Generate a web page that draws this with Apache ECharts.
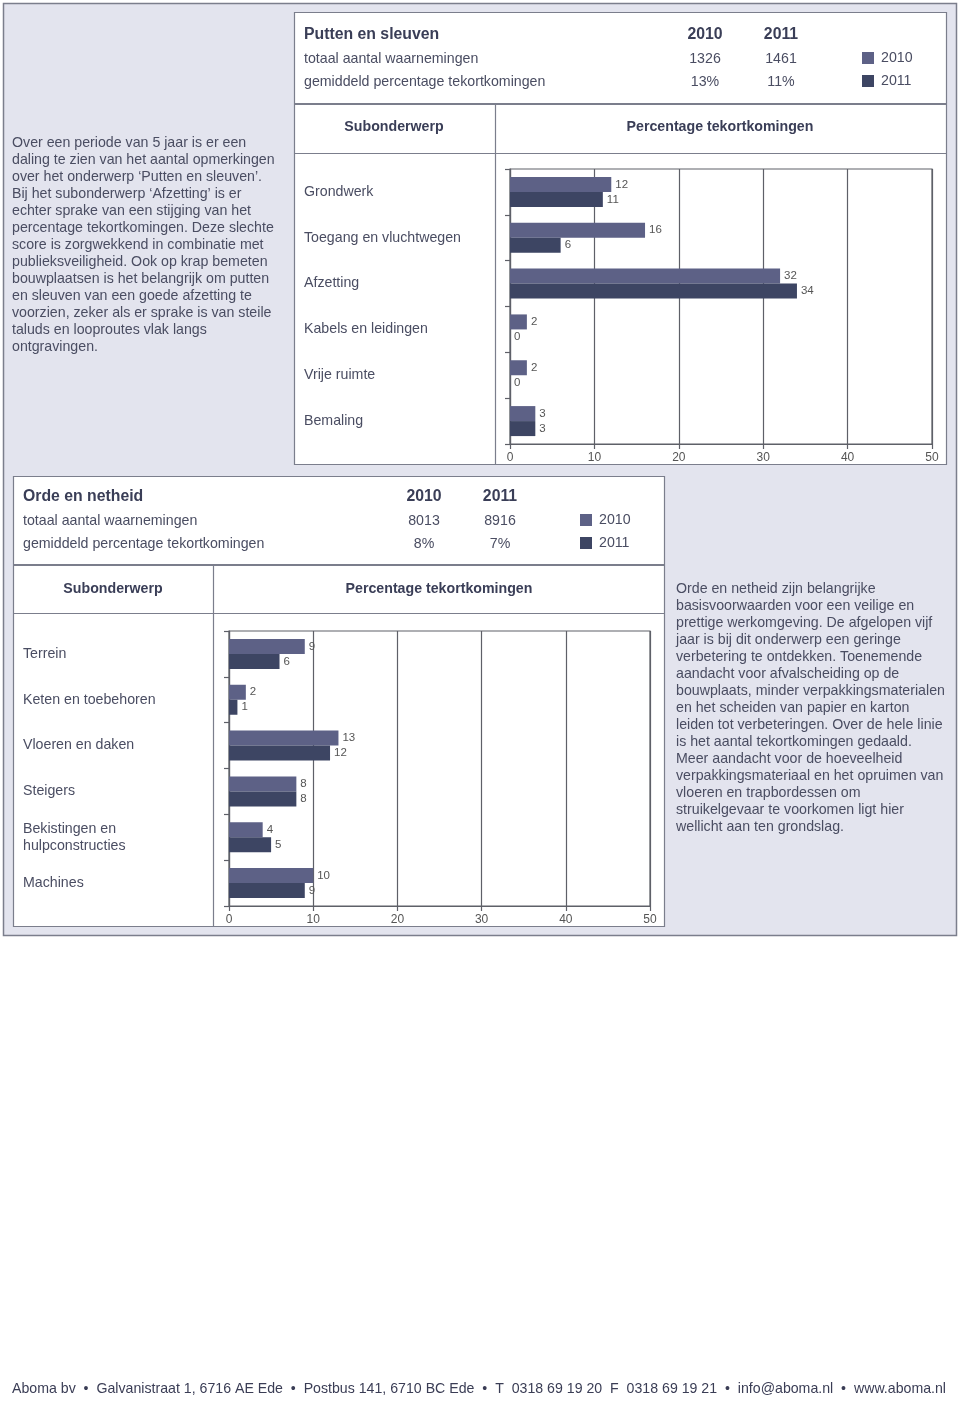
<!DOCTYPE html>
<html><head><meta charset="utf-8">
<script src="https://cdn.jsdelivr.net/npm/echarts@6/dist/echarts.min.js"></script>
<style>html,body{margin:0;padding:0;background:#fff}#c{width:960px;height:1402px}</style>
</head><body><div id="c"></div><script>
// ---------- data ----------
const years = ['2010', '2011'];
const puttenTitle = 'Putten en sleuven';
const puttenCategories = ['Grondwerk', 'Toegang en vluchtwegen', 'Afzetting', 'Kabels en leidingen', 'Vrije ruimte', 'Bemaling'];
const putten2010 = [12, 16, 32, 2, 2, 3];
const putten2011 = [11, 6, 34, 0, 0, 3];
const puttenTotals = ['1326', '1461'];
const puttenAvg = ['13%', '11%'];

const ordeTitle = 'Orde en netheid';
const ordeCategories = ['Terrein', 'Keten en toebehoren', 'Vloeren en daken', 'Steigers', 'Bekistingen en hulpconstructies', 'Machines'];
const orde2010 = [9, 2, 13, 8, 4, 10];
const orde2011 = [6, 1, 12, 8, 5, 9];
const ordeTotals = ['8013', '8916'];
const ordeAvg = ['8%', '7%'];

const xTickMin = 0, xTickMax = 50, xTickStep = 10;

const puttenText = [
  'Over een periode van 5 jaar is er een',
  'daling te zien van het aantal opmerkingen',
  'over het onderwerp \u2018Putten en sleuven\u2019.',
  'Bij het subonderwerp \u2018Afzetting\u2019 is er',
  'echter sprake van een stijging van het',
  'percentage tekortkomingen. Deze slechte',
  'score is zorgwekkend in combinatie met',
  'publieksveiligheid. Ook op krap bemeten',
  'bouwplaatsen is het belangrijk om putten',
  'en sleuven van een goede afzetting te',
  'voorzien, zeker als er sprake is van steile',
  'taluds en looproutes vlak langs',
  'ontgravingen.'
];
const ordeText = [
  'Orde en netheid zijn belangrijke',
  'basisvoorwaarden voor een veilige en',
  'prettige werkomgeving. De afgelopen vijf',
  'jaar is bij dit onderwerp een geringe',
  'verbetering te ontdekken. Toenemende',
  'aandacht voor afvalscheiding op de',
  'bouwplaats, minder verpakkingsmaterialen',
  'en het scheiden van papier en karton',
  'leiden tot verbeteringen. Over de hele linie',
  'is het aantal tekortkomingen gedaald.',
  'Meer aandacht voor de hoeveelheid',
  'verpakkingsmateriaal en het opruimen van',
  'vloeren en trapbordessen om',
  'struikelgevaar te voorkomen ligt hier',
  'wellicht aan ten grondslag.'
];
const footerText = 'Aboma bv  \u2022  Galvanistraat 1, 6716 AE Ede  \u2022  Postbus 141, 6710 BC Ede  \u2022  T  0318 69 19 20  F  0318 69 19 21  \u2022  info@aboma.nl  \u2022  www.aboma.nl';

// ---------- styles ----------
const FONT = '"Liberation Sans", Arial, Helvetica, sans-serif';
const FS = 14.2;
const TXT = '#4a4d62';
const HEAD = '#3a3e57';
const C2010 = '#5d6186';
const C2011 = '#3d4563';
const BORDER = '#7b7e8c';
const GRIDC = '#5e6068';

function T(x, y, text, o) {
  o = o || {};
  return { type: 'text', x: x, y: y, z: 10, silent: true,
    style: { text: text, fill: o.fill || TXT, fontSize: o.size || FS, fontWeight: o.bold ? 'bold' : 'normal',
      fontFamily: FONT, align: o.align || 'left', verticalAlign: o.va || 'middle', lineHeight: o.lh || undefined } };
}
function R(x, y, w, h, fill, stroke, lw, z) {
  return { type: 'rect', z: z == null ? -5 : z, silent: true, shape: { x: x, y: y, width: w, height: h },
    style: { fill: fill, stroke: stroke || null, lineWidth: lw || 1 } };
}
function L(x1, y1, x2, y2, z) {
  return { type: 'line', z: z == null ? -4 : z, silent: true, shape: { x1: x1, y1: y1, x2: x2, y2: y2 },
    style: { stroke: BORDER, lineWidth: 1.2 } };
}

function headerBlock(ox, oy, title, totals, avg) {
  return [
    T(ox + 10, oy + 22, title, { bold: true, size: 15.8, fill: HEAD }),
    T(ox + 411, oy + 22, years[0], { bold: true, size: 15.8, fill: HEAD, align: 'center' }),
    T(ox + 487, oy + 22, years[1], { bold: true, size: 15.8, fill: HEAD, align: 'center' }),
    T(ox + 10, oy + 46, 'totaal aantal waarnemingen'),
    T(ox + 411, oy + 46, totals[0], { align: 'center' }),
    T(ox + 487, oy + 46, totals[1], { align: 'center' }),
    T(ox + 10, oy + 69, 'gemiddeld percentage tekortkomingen'),
    T(ox + 411, oy + 69, avg[0], { align: 'center' }),
    T(ox + 487, oy + 69, avg[1], { align: 'center' })
  ];
}

// footer scale
const cv = document.createElement('canvas').getContext('2d');
cv.font = '15px ' + FONT;
const footW = cv.measureText(footerText).width;
const footScale = 934 / footW;

const graphics = [
  R(3.5, 3.5, 953, 932, '#e3e4ee', BORDER, 1.5, -20),
  R(294.5, 12.5, 652, 91, '#ffffff', BORDER, 1.2),
  R(294.5, 104.5, 652, 360, '#ffffff', BORDER, 1.2),
  L(495.5, 104.5, 495.5, 464.5),
  L(294.5, 153.5, 946.5, 153.5),
  T(394, 127, 'Subonderwerp', { bold: true, fill: HEAD, align: 'center' }),
  T(720, 127, 'Percentage tekortkomingen', { bold: true, fill: HEAD, align: 'center' }),
  R(13.5, 476.5, 651, 88, '#ffffff', BORDER, 1.2),
  R(13.5, 565.5, 651, 361, '#ffffff', BORDER, 1.2),
  L(213.5, 565.5, 213.5, 926.5),
  L(13.5, 613.5, 664.5, 613.5),
  T(113, 589, 'Subonderwerp', { bold: true, fill: HEAD, align: 'center' }),
  T(439, 589, 'Percentage tekortkomingen', { bold: true, fill: HEAD, align: 'center' }),
  T(12, 135, puttenText.join('\n'), { va: 'top', lh: 17 }),
  T(676, 581, ordeText.join('\n'), { va: 'top', lh: 17 }),
  { type: 'text', x: 12, y: 1389, z: 10, scaleX: footScale, silent: true,
    style: { text: footerText, fill: '#3a3d55', fontSize: 15, fontFamily: FONT, align: 'left', verticalAlign: 'middle' } }
].concat(headerBlock(294, 13, puttenTitle, puttenTotals, puttenAvg))
 .concat(headerBlock(13, 475, ordeTitle, ordeTotals, ordeAvg));

function xAxisCfg(gi) {
  return { gridIndex: gi, type: 'value', min: xTickMin, max: xTickMax, interval: xTickStep,
    axisLine: { show: true, lineStyle: { color: GRIDC, width: 1.2 } },
    axisTick: { show: true, length: 5, lineStyle: { color: GRIDC, width: 1.2 } },
    splitLine: { show: true, lineStyle: { color: GRIDC, width: 1.2 } },
    axisLabel: { fontSize: 12, color: '#555', margin: 8, fontFamily: FONT } };
}
function yAxisCfg(gi, cats) {
  return { gridIndex: gi, type: 'category', inverse: true, data: cats,
    axisLine: { show: true, lineStyle: { color: GRIDC, width: 1.2 } },
    axisTick: { show: true, length: 5, lineStyle: { color: GRIDC, width: 1.2 } },
    splitLine: { show: false },
    axisLabel: { margin: 206, align: 'left', fontSize: FS, color: TXT, fontFamily: FONT, lineHeight: 17,
      formatter: function (v) { return v.replace('Bekistingen en ', 'Bekistingen en\n'); } } };
}
function barSeries(name, gi, data, color) {
  return { type: 'bar', name: name, xAxisIndex: gi, yAxisIndex: gi, data: data, barWidth: 15, barGap: '0%',
    itemStyle: { color: color }, silent: true,
    label: { show: true, position: 'right', distance: 4, fontSize: 11.5, color: '#555', fontFamily: FONT } };
}
function legendCfg(left, top) {
  return { data: years, left: left, top: top, padding: 0, orient: 'vertical', icon: 'rect', itemWidth: 12, itemHeight: 12,
    itemGap: 9, selectedMode: false, textStyle: { fontSize: FS, color: TXT, fontFamily: FONT, padding: [0, 0, 0, 2] } };
}

const chart = echarts.init(document.getElementById('c'), null, { renderer: 'canvas' });
chart.setOption({
  backgroundColor: '#ffffff',
  animation: false,
  color: [C2010, C2011],
  textStyle: { fontFamily: FONT },
  legend: [legendCfg(862, 51), legendCfg(580, 513)],
  grid: [
    { left: 510, top: 169, width: 422, height: 275, show: true, borderColor: GRIDC, borderWidth: 1.2, backgroundColor: 'transparent' },
    { left: 229, top: 631, width: 421, height: 275, show: true, borderColor: GRIDC, borderWidth: 1.2, backgroundColor: 'transparent' }
  ],
  xAxis: [xAxisCfg(0), xAxisCfg(1)],
  yAxis: [yAxisCfg(0, puttenCategories), yAxisCfg(1, ordeCategories)],
  series: [
    barSeries(years[0], 0, putten2010, C2010),
    barSeries(years[1], 0, putten2011, C2011),
    barSeries(years[0], 1, orde2010, C2010),
    barSeries(years[1], 1, orde2011, C2011)
  ],
  graphic: graphics
});
</script></body></html>
